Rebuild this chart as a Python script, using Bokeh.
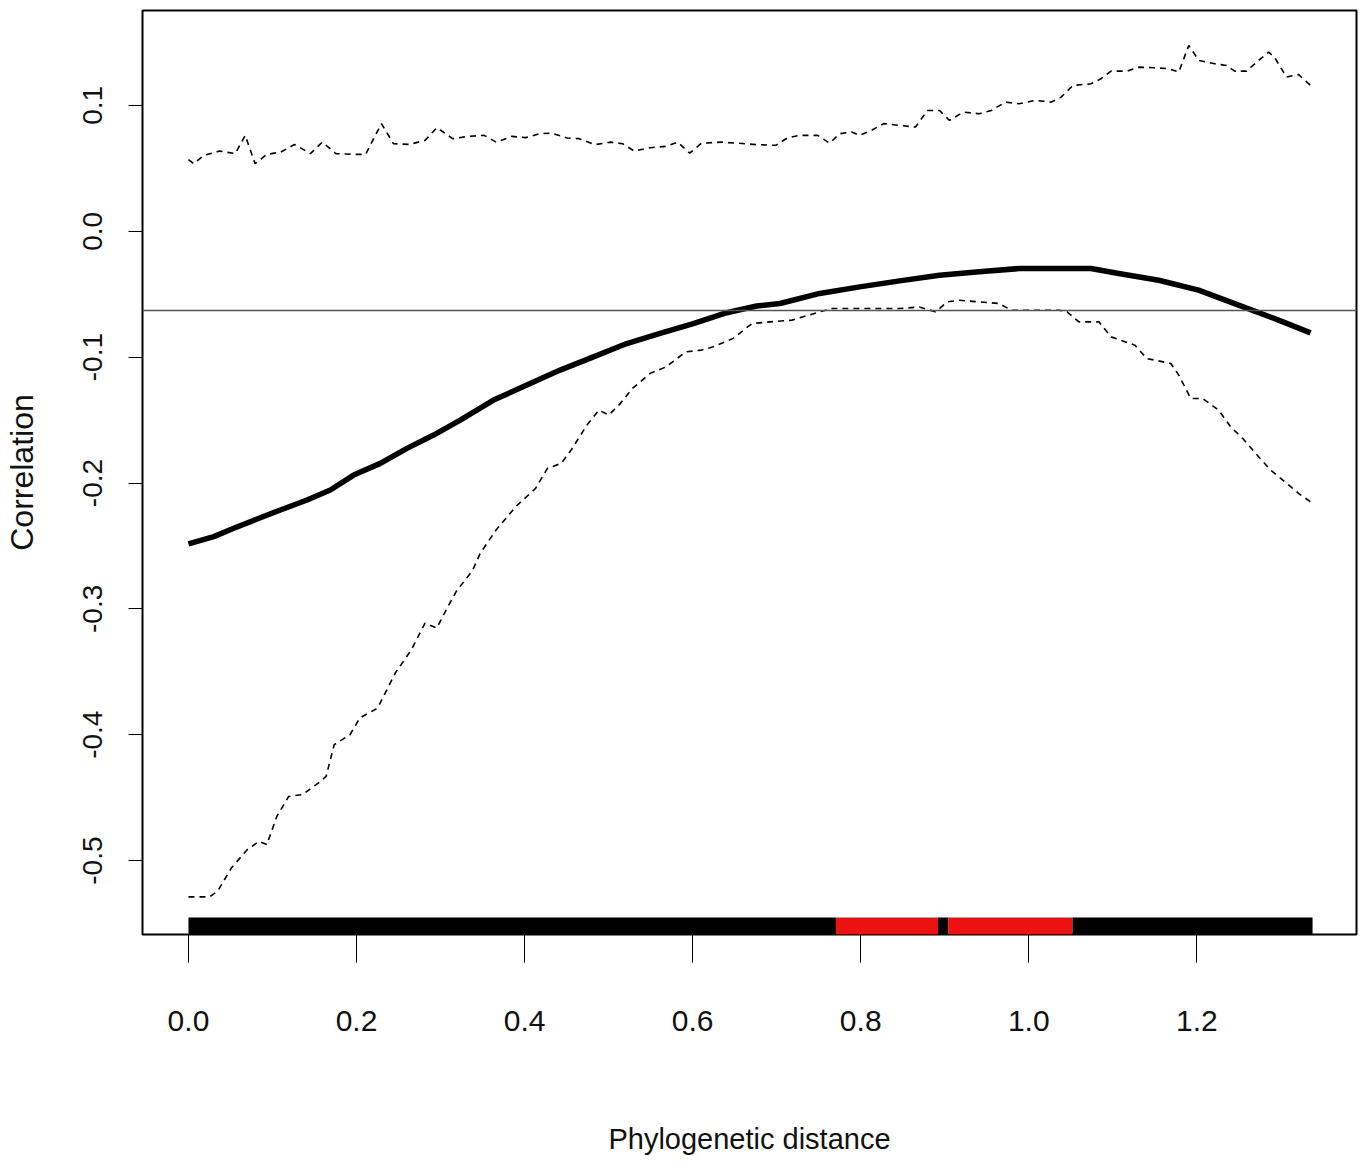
from bokeh.plotting import figure
from bokeh.models import Range1d, FixedTicker, NumeralTickFormatter, Span
from bokeh.embed import file_html
from bokeh.resources import INLINE

# ---------------- data ----------------
corr_x = [0.0, 0.0301, 0.0539, 0.0817, 0.1094, 0.1411, 0.1688, 0.1966, 0.2283, 0.2600,
          0.2917, 0.3234, 0.3630, 0.4027, 0.4423, 0.4819, 0.5216, 0.5612, 0.6008, 0.6405,
          0.6762, 0.7039, 0.7512, 0.7988, 0.8463, 0.8937, 0.9411, 0.9886, 1.0361, 1.0741,
          1.1070, 1.1546, 1.2021, 1.2497, 1.2973, 1.3353]
corr_y = [-0.2484, -0.2426, -0.2360, -0.2286, -0.2214, -0.2135, -0.2056, -0.1937, -0.1844, -0.1725,
          -0.1619, -0.1500, -0.1341, -0.1222, -0.1103, -0.0998, -0.0892, -0.0812, -0.0733, -0.0647,
          -0.0594, -0.0574, -0.0494, -0.0442, -0.0394, -0.0349, -0.0322, -0.0296, -0.0296, -0.0296,
          -0.0335, -0.0389, -0.0468, -0.0587, -0.0706, -0.0807]

lower_x = [0.0, 0.0252, 0.0346, 0.0511, 0.0699, 0.0839, 0.0933, 0.1051, 0.1193, 0.1356,
           0.1570, 0.1638, 0.1734, 0.1922, 0.2039, 0.2251, 0.2461, 0.2650, 0.2815, 0.2956,
           0.3050, 0.3190, 0.3378, 0.3472, 0.3661, 0.3895, 0.4131, 0.4272, 0.4436, 0.4554,
           0.4742, 0.4884, 0.5001, 0.5141, 0.5283, 0.5495, 0.5684, 0.5918, 0.6106, 0.6247,
           0.6482, 0.6706, 0.6920, 0.7182, 0.7512, 0.7655, 0.7988, 0.8463, 0.8699, 0.8889,
           0.9032, 0.9175, 0.9649, 0.9792, 1.0361, 1.0455, 1.0598, 1.0836, 1.0979, 1.1263,
           1.1405, 1.1690, 1.1785, 1.1927, 1.2069, 1.2259, 1.2402, 1.2545, 1.2735, 1.2878,
           1.3068, 1.3210, 1.3377]
lower_y = [-0.5288, -0.5288, -0.5244, -0.5058, -0.4913, -0.4847, -0.4873, -0.4649, -0.4490, -0.4476,
           -0.4371, -0.4331, -0.4079, -0.4000, -0.3867, -0.3788, -0.3510, -0.3328, -0.3114, -0.3153,
           -0.3029, -0.2857, -0.2698, -0.2558, -0.2373, -0.2188, -0.2042, -0.1883, -0.1844, -0.1738,
           -0.1540, -0.1421, -0.1460, -0.1367, -0.1249, -0.1129, -0.1077, -0.0958, -0.0944, -0.0918,
           -0.0851, -0.0733, -0.0720, -0.0706, -0.0640, -0.0614, -0.0614, -0.0614, -0.0601, -0.0640,
           -0.0561, -0.0548, -0.0574, -0.0627, -0.0627, -0.0640, -0.0720, -0.0720, -0.0839, -0.0905,
           -0.1011, -0.1050, -0.1143, -0.1328, -0.1328, -0.1421, -0.1553, -0.1645, -0.1791, -0.1897,
           -0.2002, -0.2082, -0.2161]

upper_x = [0.0, 0.0064, 0.0182, 0.0370, 0.0558, 0.0675, 0.0793, 0.0933, 0.1099, 0.1263,
           0.1451, 0.1592, 0.1756, 0.1968, 0.2109, 0.2203, 0.2297, 0.2439, 0.2627, 0.2815,
           0.2956, 0.3144, 0.3332, 0.3520, 0.3661, 0.3849, 0.4013, 0.4178, 0.4319, 0.4507,
           0.4648, 0.4836, 0.5024, 0.5165, 0.5306, 0.5495, 0.5684, 0.5824, 0.5964, 0.6106,
           0.6340, 0.6529, 0.6763, 0.6990, 0.7133, 0.7276, 0.7489, 0.7631, 0.7750, 0.7893,
           0.7988, 0.8129, 0.8272, 0.8462, 0.8652, 0.8794, 0.8937, 0.9056, 0.9221, 0.9411,
           0.9554, 0.9721, 0.9886, 1.0076, 1.0266, 1.0385, 1.0527, 1.0741, 1.0860, 1.0979,
           1.1168, 1.1310, 1.1501, 1.1666, 1.1785, 1.1904, 1.2023, 1.2212, 1.2354, 1.2450,
           1.2592, 1.2735, 1.2853, 1.2924, 1.3067, 1.3209, 1.3376]
upper_y = [0.0569, 0.0537, 0.0603, 0.0637, 0.0617, 0.0762, 0.0537, 0.0611, 0.0629, 0.0690,
           0.0617, 0.0708, 0.0617, 0.0611, 0.0611, 0.0736, 0.0855, 0.0696, 0.0690, 0.0722,
           0.0823, 0.0736, 0.0754, 0.0762, 0.0708, 0.0754, 0.0744, 0.0775, 0.0780, 0.0741,
           0.0736, 0.0688, 0.0708, 0.0696, 0.0637, 0.0664, 0.0675, 0.0708, 0.0621, 0.0700,
           0.0708, 0.0700, 0.0688, 0.0683, 0.0744, 0.0762, 0.0762, 0.0700, 0.0775, 0.0788,
           0.0762, 0.0802, 0.0855, 0.0841, 0.0828, 0.0960, 0.0960, 0.0881, 0.0947, 0.0934,
           0.0960, 0.1026, 0.1013, 0.1040, 0.1026, 0.1066, 0.1159, 0.1172, 0.1212, 0.1272,
           0.1272, 0.1304, 0.1299, 0.1291, 0.1265, 0.1476, 0.1357, 0.1331, 0.1317, 0.1272,
           0.1272, 0.1357, 0.1423, 0.1383, 0.1225, 0.1246, 0.1144]

mean_corr = -0.063

# significance bar along the bottom
bar_start = [0.0, 0.7705, 0.892, 0.904, 1.052]
bar_end = [0.7705, 0.892, 0.904, 1.052, 1.3377]
bar_significant = [False, True, False, True, False]
bar_level = -0.552

x_ticks = [0.0, 0.2, 0.4, 0.6, 0.8, 1.0, 1.2]
x_tick_labels = ["0.0", "0.2", "0.4", "0.6", "0.8", "1.0", "1.2"]
y_ticks = [0.1, 0.0, -0.1, -0.2, -0.3, -0.4, -0.5]
y_tick_labels = ["0.1", "0.0", "-0.1", "-0.2", "-0.3", "-0.4", "-0.5"]

x_title = "Phylogenetic distance"
y_title = "Correlation"

# ---------------- figure ----------------
FONT = "Liberation Sans"

p = figure(width=1358, height=1157, output_backend="svg", toolbar_location=None,
           x_range=Range1d(-0.0547, 1.390), y_range=Range1d(-0.5587, 0.1754),
           min_border_left=134, min_border_right=2, min_border_top=10, min_border_bottom=222)
p.background_fill_color = "white"
p.border_fill_color = "white"
p.outline_line_color = "black"
p.outline_line_width = 2
p.grid.visible = False

# horizontal reference line
p.add_layout(Span(location=mean_corr, dimension="width", line_color="#555555", line_width=1.6))

# confidence envelopes
p.line(upper_x, upper_y, line_color="black", line_width=1.6, line_dash="6 5")
p.line(lower_x, lower_y, line_color="black", line_width=1.6, line_dash="6 5")
# correlation
p.line(corr_x, corr_y, line_color="black", line_width=5.5, line_join="round")

# significance bar
bar_colors = ["#ee1111" if s else "black" for s in bar_significant]
p.segment(x0=bar_start, y0=[bar_level] * len(bar_start), x1=bar_end, y1=[bar_level] * len(bar_start),
          line_color=bar_colors, line_width=17, line_cap="butt")

# axes
xa = p.xaxis[0]
xa.ticker = FixedTicker(ticks=x_ticks)
xa.formatter = NumeralTickFormatter(format="0.0")
xa.major_label_overrides = dict(zip(x_ticks, x_tick_labels))
xa.axis_line_color = None
xa.major_tick_in = 0
xa.major_tick_out = 28
xa.major_tick_line_color = "black"
xa.minor_tick_line_color = None
xa.major_label_text_font = FONT
xa.major_label_text_font_size = "30px"
xa.major_label_text_color = "#111111"
xa.major_label_standoff = 48
xa.axis_label = x_title
xa.axis_label_text_font = FONT
xa.axis_label_text_font_size = "29px"
xa.axis_label_text_font_style = "normal"
xa.axis_label_text_color = "#111111"
xa.axis_label_standoff = 89

ya = p.yaxis[0]
ya.ticker = FixedTicker(ticks=y_ticks)
ya.formatter = NumeralTickFormatter(format="0.0")
ya.major_label_overrides = dict(zip(y_ticks, y_tick_labels))
ya.axis_line_color = None
ya.major_tick_in = 0
ya.major_tick_out = 14
ya.major_tick_line_color = "black"
ya.minor_tick_line_color = None
ya.major_label_orientation = "vertical"
ya.major_label_text_font = FONT
ya.major_label_text_font_size = "28px"
ya.major_label_text_color = "#111111"
ya.major_label_standoff = 26
ya.axis_label = y_title
ya.axis_label_text_font = FONT
ya.axis_label_text_font_size = "32px"
ya.axis_label_text_font_style = "normal"
ya.axis_label_text_color = "#111111"
ya.axis_label_standoff = 41

open("out.html", "w").write(file_html(p, INLINE))
